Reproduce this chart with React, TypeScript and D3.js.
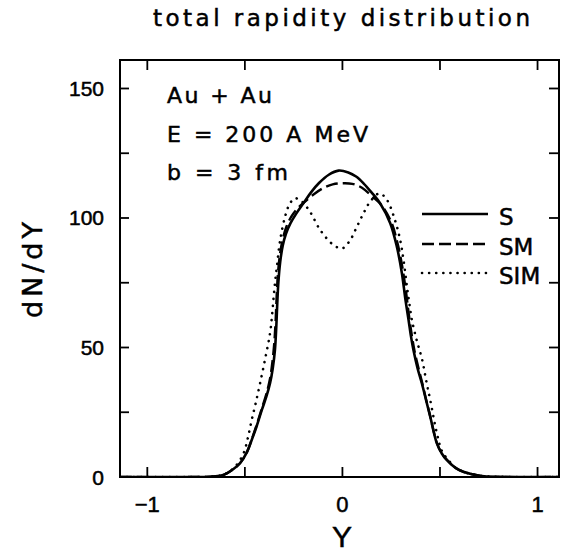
import React from "react";
import * as d3 from "d3";

const W = 562;
const H = 554;

// x: rapidity Y, y: dN/dY
const sCurve: [number, number][] = [
  [-1.14, 0], [-0.75, 0], [-0.66, 0.2], [-0.61, 0.8], [-0.56, 3], [-0.525, 5.3], [-0.49, 9.5],
  [-0.465, 14.3], [-0.44, 19.5], [-0.413, 25.9], [-0.39, 31], [-0.371, 36.2], [-0.357, 42],
  [-0.346, 49], [-0.339, 58], [-0.334, 67], [-0.328, 75.5], [-0.319, 83], [-0.306, 89.3],
  [-0.289, 94], [-0.266, 98], [-0.236, 101.8], [-0.2, 105.7], [-0.16, 110], [-0.12, 113.5],
  [-0.07, 116.7], [-0.02, 118.3], [0.03, 117.6], [0.07, 116], [0.108, 113.4], [0.15, 109.8],
  [0.193, 105.7], [0.245, 98], [0.279, 88.9], [0.305, 78.6], [0.322, 69], [0.339, 60.6],
  [0.352, 54], [0.364, 49], [0.385, 42], [0.407, 36.2], [0.43, 29.3], [0.45, 23.3], [0.484, 13],
  [0.51, 9], [0.535, 6.6], [0.58, 3.5], [0.62, 2], [0.71, 0.4], [0.85, 0], [1.11, 0],
];

const smCurve: [number, number][] = [
  [-1.14, 0], [-0.75, 0], [-0.66, 0.2], [-0.61, 0.8], [-0.56, 3], [-0.525, 5.3], [-0.49, 9.5],
  [-0.465, 14.5], [-0.44, 20], [-0.413, 26.5], [-0.39, 32], [-0.371, 38], [-0.358, 45],
  [-0.349, 52], [-0.342, 61], [-0.337, 70], [-0.331, 78], [-0.321, 85.5], [-0.307, 91.5],
  [-0.288, 96.5], [-0.262, 100.5], [-0.232, 103.5], [-0.2, 105.8], [-0.15, 109], [-0.1, 111.5],
  [-0.05, 113], [0, 113.4], [0.05, 113.2], [0.1, 111.7], [0.15, 108.5], [0.2, 105], [0.25, 98.5],
  [0.28, 91], [0.305, 82], [0.325, 72], [0.34, 63], [0.355, 55], [0.37, 48.5], [0.39, 42],
  [0.41, 36], [0.43, 29.5], [0.45, 23.5], [0.484, 13.2], [0.51, 9], [0.535, 6.6], [0.58, 3.5],
  [0.62, 2], [0.71, 0.4], [0.85, 0], [1.11, 0],
];

const simCurve: [number, number][] = [
  [-1.14, 0], [-0.75, 0], [-0.66, 0.2], [-0.6, 1.2], [-0.55, 4], [-0.507, 9.1], [-0.485, 15],
  [-0.465, 22], [-0.443, 29], [-0.422, 36.2], [-0.395, 46], [-0.371, 55.5], [-0.36, 63],
  [-0.352, 70], [-0.344, 76], [-0.336, 81.2], [-0.319, 91.5], [-0.294, 100.5], [-0.27, 105.5],
  [-0.243, 107.6], [-0.21, 106.5], [-0.166, 102.4], [-0.114, 95.4], [-0.046, 89.6], [0, 88.3],
  [0.04, 91.5], [0.074, 96.6], [0.108, 101.8], [0.142, 106.3], [0.19, 109.5], [0.228, 107],
  [0.27, 99], [0.296, 91.5], [0.313, 83.8], [0.333, 72.2], [0.345, 66], [0.356, 60.6],
  [0.38, 53], [0.407, 45.8], [0.43, 37], [0.45, 29.7], [0.484, 16.9], [0.51, 10], [0.54, 6.8],
  [0.58, 3.6], [0.62, 2], [0.71, 0.4], [0.85, 0], [1.11, 0],
];

const xTicks = [-1, -0.5, 0, 0.5, 1];
const xTickLabels = [
  { v: -1, t: "\u22121" },
  { v: 0, t: "0" },
  { v: 1, t: "1" },
];
const yTicks = [25, 50, 75, 100, 125, 150];
const yTickLabels = [0, 50, 100, 150];

const legendItems = [
  { name: "S", data: sCurve, dash: "none", width: 2.6, cap: "butt" },
  { name: "SM", data: smCurve, dash: "12 5", width: 2.4, cap: "butt" },
  { name: "SIM", data: simCurve, dash: "0.1 7", width: 2.6, cap: "round" },
];

const FONT = "'DejaVu Sans', 'Liberation Sans', sans-serif";
const NUMFONT = "'Liberation Sans', Arial, sans-serif";
const TXT = { fill: "#000", stroke: "#000", strokeWidth: 0.5 };

export default function App() {
  const left = 120, right = 559, top = 60, bottom = 477;
  const x = d3.scaleLinear().domain([-1.14, 1.11]).range([left, right]);
  const y = d3.scaleLinear().domain([0, 161]).range([bottom, top]);
  const line = d3
    .line<[number, number]>()
    .x((d) => x(d[0]))
    .y((d) => y(d[1]))
    .curve(d3.curveCatmullRom.alpha(0.5));

  const legendY = [214, 244, 273];
  const legendLabelY = [225, 255, 284];

  return (
    <svg
      width={W}
      height={H}
      style={{ position: "absolute", left: 0, top: 0, background: "#fff" }}
      fontFamily={FONT}
    >
      <defs>
        <clipPath id="plotclip">
          <rect x={left} y={top} width={right - left} height={bottom - top} />
        </clipPath>
      </defs>
      <rect x={0} y={0} width={W} height={H} fill="#fff" />

      {/* title */}
      <text x={153} y={26} fontSize={23} textLength={377} lengthAdjust="spacing" {...TXT}>
        total rapidity distribution
      </text>

      {/* curves */}
      <g clipPath="url(#plotclip)">
        {legendItems.map((it) => (
          <path
            key={it.name}
            d={line(it.data) || ""}
            fill="none"
            stroke="#000"
            strokeWidth={it.width}
            strokeDasharray={it.dash}
            strokeLinecap={it.cap as any}
            strokeLinejoin="round"
          />
        ))}
      </g>

      {/* frame */}
      <rect x={left} y={top} width={right - left} height={bottom - top} fill="none" stroke="#000" strokeWidth={2} />

      {/* x ticks */}
      {xTicks.map((v) => (
        <g key={"xt" + v}>
          <line x1={x(v)} x2={x(v)} y1={bottom} y2={bottom - 10} stroke="#000" strokeWidth={1.8} />
          <line x1={x(v)} x2={x(v)} y1={top} y2={top + 10} stroke="#000" strokeWidth={1.8} />
        </g>
      ))}
      {/* y ticks */}
      {yTicks.map((v) => (
        <g key={"yt" + v}>
          <line x1={left} x2={left + 9} y1={y(v)} y2={y(v)} stroke="#000" strokeWidth={1.8} />
          <line x1={right} x2={right - 10} y1={y(v)} y2={y(v)} stroke="#000" strokeWidth={1.8} />
        </g>
      ))}

      {/* tick labels */}
      {xTickLabels.map((d) => (
        <text key={"xl" + d.v} x={x(d.v)} y={512} fontSize={22} textAnchor="middle" fontFamily={NUMFONT} {...TXT}>
          {d.t}
        </text>
      ))}
      {yTickLabels.map((v) => (
        <text key={"yl" + v} x={104} y={y(v) + 7.5} fontSize={21} textAnchor="end" fontFamily={NUMFONT} {...TXT}>
          {v}
        </text>
      ))}

      {/* axis titles */}
      <text
        transform="translate(42,270) rotate(-90)"
        fontSize={27}
        textAnchor="middle"
        textLength={96}
        lengthAdjust="spacing"
        {...TXT}
      >
        dN/dY
      </text>
      <text x={342} y={547} fontSize={30} textAnchor="middle" fontFamily={NUMFONT} {...TXT}>
        Y
      </text>

      {/* annotations */}
      <text x={167} y={103} fontSize={22} textLength={105} lengthAdjust="spacing" xmlSpace="preserve" {...TXT}>
        Au + Au
      </text>
      <text x={167} y={142} fontSize={22} textLength={201} lengthAdjust="spacing" xmlSpace="preserve" {...TXT}>
        E = 200 A MeV
      </text>
      <text x={167} y={180} fontSize={22} textLength={121} lengthAdjust="spacing" xmlSpace="preserve" {...TXT}>
        b = 3 fm
      </text>

      {/* legend */}
      {legendItems.map((it, i) => (
        <g key={"lg" + it.name}>
          <line
            x1={422}
            x2={488}
            y1={legendY[i]}
            y2={legendY[i]}
            stroke="#000"
            strokeWidth={it.width}
            strokeDasharray={it.dash}
            strokeLinecap={it.cap as any}
          />
          <text x={499} y={legendLabelY[i]} fontSize={23} {...TXT}>
            {it.name}
          </text>
        </g>
      ))}
    </svg>
  );
}
